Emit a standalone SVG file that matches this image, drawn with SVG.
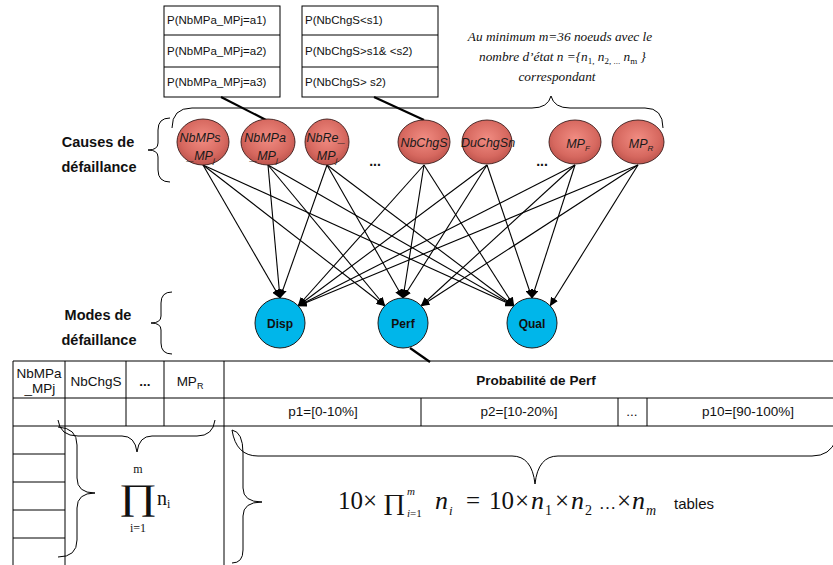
<svg xmlns="http://www.w3.org/2000/svg" width="833" height="565" viewBox="0 0 833 565">
<style>
.sans{font-family:"Liberation Sans",Arial,sans-serif;}
.lbl{font-family:"Liberation Sans",Arial,sans-serif;font-weight:bold;font-size:14.5px;fill:#111;text-anchor:middle;}
.cause{fill:url(#rg);stroke:#3a1a18;stroke-width:0.9;}
.ct{font-family:"Liberation Sans",Arial,sans-serif;font-style:italic;font-size:12.5px;fill:#1a1a1a;text-anchor:middle;}
.mode{fill:#00b6ea;stroke:#1a1a1a;stroke-width:1;}
.mt{font-family:"Liberation Sans",Arial,sans-serif;font-weight:bold;font-size:12px;fill:#111;text-anchor:middle;}
.cell{fill:none;stroke:#000;stroke-width:1;}
.tt{font-family:"Liberation Sans",Arial,sans-serif;font-size:11.5px;fill:#111;}
.th{font-family:"Liberation Sans",Arial,sans-serif;font-size:13.5px;fill:#111;text-anchor:middle;}
.brace{fill:none;stroke:#000;stroke-width:1;}
.arr{stroke:#000;stroke-width:1.1;fill:none;marker-end:url(#ah);}
.thick{stroke:#000;stroke-width:2.2;}
.ser{font-family:"Liberation Serif","Times New Roman",serif;fill:#111;}
.dots{font-family:"Liberation Sans",Arial,sans-serif;font-weight:bold;font-size:14px;fill:#111;text-anchor:middle;}
</style>
<defs>
<radialGradient id="rg" cx="50%" cy="42%" r="60%">
<stop offset="0" stop-color="#f18c82"/>
<stop offset="0.7" stop-color="#d6685f"/>
<stop offset="1" stop-color="#bb524b"/>
</radialGradient>
<marker id="ah" markerWidth="9" markerHeight="8" refX="8.5" refY="4" orient="auto" markerUnits="userSpaceOnUse">
<path d="M0,0 L9,4 L0,8 z" fill="#000"/>
</marker>
</defs>
<rect width="833" height="565" fill="#fff"/>

<!-- top probability tables -->
<g id="table-nbmpa">
<rect class="cell" x="164" y="6" width="116" height="91"/>
<line class="cell" x1="164" y1="35" x2="280" y2="35"/>
<line class="cell" x1="164" y1="67" x2="280" y2="67"/>
<text class="tt" x="167" y="24">P(NbMPa_MPj=a1)</text>
<text class="tt" x="167" y="55">P(NbMPa_MPj=a2)</text>
<text class="tt" x="167" y="86">P(NbMPa_MPj=a3)</text>
</g>
<g id="table-nbchgs">
<rect class="cell" x="302" y="6" width="136" height="91"/>
<line class="cell" x1="302" y1="35" x2="438" y2="35"/>
<line class="cell" x1="302" y1="67" x2="438" y2="67"/>
<text class="tt" x="305" y="24">P(NbChgS&lt;s1)</text>
<text class="tt" x="305" y="55">P(NbChgS&gt;s1&amp; &lt;s2)</text>
<text class="tt" x="305" y="86">P(NbChgS&gt; s2)</text>
</g>

<!-- annotation -->
<g id="note">
<text class="ser" font-style="italic" font-size="13.3" text-anchor="middle" x="560" y="41">Au minimum m=36 noeuds avec le</text>
<text class="ser" font-style="italic" font-size="13.3" x="479" y="61">nombre d’état n ={n<tspan font-size="9" font-style="normal" dy="3">1,</tspan><tspan dy="-3"> n</tspan><tspan font-size="9" font-style="normal" dy="3">2, ...</tspan><tspan dy="-3"> n</tspan><tspan font-size="9" font-style="normal" dy="3">m</tspan><tspan dy="-3"> }</tspan></text>
<text class="ser" font-style="italic" font-size="13.3" text-anchor="middle" x="557" y="81">correspondant</text>
</g>

<!-- side labels -->
<g id="label-causes">
<text class="lbl" x="98" y="147">Causes de</text>
<text class="lbl" x="99" y="172">défaillance</text>
<path class="brace" d="M170,118 Q158,118 158,130 L158,143 Q158,150 148,150 Q158,150 158,157 L158,170 Q158,182 170,182"/>
</g>
<g id="label-modes">
<text class="lbl" x="98" y="320">Modes de</text>
<text class="lbl" x="99" y="345">défaillance</text>
<path class="brace" d="M172,292 Q161,292 161,303 L161,316 Q161,323 151,323 Q161,323 161,330 L161,343 Q161,354 172,354"/>
</g>

<!-- big top brace -->
<path class="brace" d="M172,128 Q172,108 192,108 L532,108 Q548,108 551,96 Q554,108 570,108 L645,108 Q663,108 663,128"/>

<!-- connectors -->
<g id="connectors">
<line class="thick" x1="221" y1="97" x2="268" y2="121"/>
<line class="thick" x1="374" y1="97" x2="424" y2="120"/>
<line class="thick" x1="410" y1="348" x2="430" y2="362"/>
<line class="arr" x1="203" y1="165" x2="280" y2="298"/>
<line class="arr" x1="268" y1="165" x2="280" y2="298"/>
<line class="arr" x1="327" y1="165" x2="280" y2="298"/>
<line class="arr" x1="424" y1="165" x2="298" y2="306"/>
<line class="arr" x1="487" y1="165" x2="298" y2="306"/>
<line class="arr" x1="575" y1="165" x2="298" y2="306"/>
<line class="arr" x1="638" y1="165" x2="298" y2="306"/>
<line class="arr" x1="203" y1="165" x2="385" y2="306"/>
<line class="arr" x1="268" y1="165" x2="385" y2="306"/>
<line class="arr" x1="327" y1="165" x2="403" y2="298"/>
<line class="arr" x1="424" y1="165" x2="403" y2="298"/>
<line class="arr" x1="487" y1="165" x2="403" y2="298"/>
<line class="arr" x1="575" y1="165" x2="421" y2="306"/>
<line class="arr" x1="638" y1="165" x2="421" y2="306"/>
<line class="arr" x1="203" y1="165" x2="514" y2="306"/>
<line class="arr" x1="268" y1="165" x2="514" y2="306"/>
<line class="arr" x1="327" y1="165" x2="514" y2="306"/>
<line class="arr" x1="424" y1="165" x2="514" y2="306"/>
<line class="arr" x1="487" y1="165" x2="532" y2="298"/>
<line class="arr" x1="575" y1="165" x2="532" y2="298"/>
<line class="arr" x1="638" y1="165" x2="550" y2="306"/>
</g>

<!-- cause nodes -->
<g id="node-nbmps">
<ellipse class="cause" cx="203" cy="142" rx="26" ry="23"/>
<text class="ct" x="200" y="142">NbMPs</text>
<text class="ct" x="201" y="160">_MP<tspan font-size="8" dy="3">j</tspan></text>
</g>
<g id="node-nbmpa">
<ellipse class="cause" cx="268" cy="142" rx="27" ry="23"/>
<text class="ct" x="265" y="142">NbMPa</text>
<text class="ct" x="264" y="160">_MP<tspan font-size="8" dy="3">j</tspan></text>
</g>
<g id="node-nbre">
<ellipse class="cause" cx="327" cy="142" rx="22" ry="23"/>
<text class="ct" x="326" y="142">NbRe_</text>
<text class="ct" x="327" y="160">MP<tspan font-size="8" dy="3">j</tspan></text>
</g>
<text class="dots" x="375" y="166">...</text>
<g id="node-nbchgs">
<ellipse class="cause" cx="424" cy="142" rx="26" ry="22"/>
<text class="ct" x="424" y="147">NbChgS</text>
</g>
<g id="node-duchgsn">
<ellipse class="cause" cx="487" cy="142" rx="25" ry="22"/>
<text class="ct" x="488" y="147">DuChgSn</text>
</g>
<text class="dots" x="542" y="166">...</text>
<g id="node-mpf">
<ellipse class="cause" cx="575" cy="142" rx="26" ry="22"/>
<text class="ct" x="578" y="148">MP<tspan font-size="8" dy="3">F</tspan></text>
</g>
<g id="node-mpr">
<ellipse class="cause" cx="638" cy="142" rx="26" ry="22"/>
<text class="ct" x="641" y="148">MP<tspan font-size="8" dy="3">R</tspan></text>
</g>

<!-- mode nodes -->
<g id="node-disp">
<circle class="mode" cx="280" cy="323" r="25"/>
<text class="mt" x="280" y="328">Disp</text>
</g>
<g id="node-perf">
<circle class="mode" cx="403" cy="323" r="25"/>
<text class="mt" x="403" y="328">Perf</text>
</g>
<g id="node-qual">
<circle class="mode" cx="532" cy="323" r="25"/>
<text class="mt" x="532" y="328">Qual</text>
</g>

<!-- bottom table -->
<g id="table-perf">
<line class="cell" x1="13" y1="361" x2="833" y2="361"/>
<line class="cell" x1="13" y1="398" x2="833" y2="398"/>
<line class="cell" x1="13" y1="426" x2="833" y2="426"/>
<line class="cell" x1="13" y1="361" x2="13" y2="565"/>
<line class="cell" x1="65" y1="361" x2="65" y2="565"/>
<line class="cell" x1="126" y1="361" x2="126" y2="426"/>
<line class="cell" x1="164" y1="361" x2="164" y2="426"/>
<line class="cell" x1="224" y1="361" x2="224" y2="565"/>
<line class="cell" x1="421" y1="398" x2="421" y2="426"/>
<line class="cell" x1="618" y1="398" x2="618" y2="426"/>
<line class="cell" x1="647" y1="398" x2="647" y2="426"/>
<line class="cell" x1="13" y1="454" x2="65" y2="454"/>
<line class="cell" x1="13" y1="482" x2="65" y2="482"/>
<line class="cell" x1="13" y1="510" x2="65" y2="510"/>
<line class="cell" x1="13" y1="538" x2="65" y2="538"/>
<text class="th" font-size="13" x="39" y="378">NbMPa</text>
<text class="th" font-size="13" x="40" y="393">_MPj</text>
<text class="th" font-size="13" x="96" y="386">NbChgS</text>
<text class="th" font-weight="bold" x="145" y="386">...</text>
<text class="th" font-size="14" x="190" y="386">MP<tspan font-size="9" dy="3">R</tspan></text>
<text class="th" font-weight="bold" x="536" y="385">Probabilité de Perf</text>
<text class="th" x="323" y="416">p1=[0-10%]</text>
<text class="th" x="519" y="416">p2=[10-20%]</text>
<text class="th" x="632" y="416">...</text>
<text class="th" x="748" y="416">p10=[90-100%]</text>
</g>

<!-- bottom braces -->
<path class="brace" d="M58,420 Q60,436 78,436 L122,436 Q135,436 137,452 Q139,436 152,436 L197,436 Q213,436 215,420"/>
<path class="brace" d="M58,427 Q77,428 77,445 L77,478 Q77,493 95,493 Q77,493 77,508 L77,540 Q77,557 58,557"/>
<path class="brace" d="M232,430 Q243,432 243,453 L243,488 Q243,502 262,502 Q243,502 243,516 L243,550 Q243,563 232,563"/>
<path class="brace" d="M232,430 Q236,456 258,456 L512,456 Q532,456 535,484 Q538,456 558,456 L812,456 Q830,456 836,440"/>

<!-- product formula -->
<g id="product">
<text class="ser" font-size="12" text-anchor="middle" x="138" y="473">m</text>
<text class="ser" font-size="36" text-anchor="middle" transform="translate(138,509) scale(1.3,1)" x="0" y="0">∏</text>
<text class="ser" font-size="12" text-anchor="middle" x="138" y="532">i=1</text>
<text class="ser" font-size="20" x="157" y="505">n<tspan font-size="12" dy="3">i</tspan></text>
</g>

<g id="formula">
<text class="ser" font-size="25" x="338" y="509">10×</text>
<text class="ser" font-size="23" transform="translate(383,510) scale(1.2,1)" x="0" y="0">∏</text>
<text class="ser" font-size="11" font-style="italic" x="407" y="495">m</text>
<text class="ser" font-size="11" x="407" y="517"><tspan font-style="italic">i</tspan>=1</text>
<text class="ser" font-size="26" font-style="italic" x="435" y="509">n</text>
<text class="ser" font-size="13" font-style="italic" x="449" y="515">i</text>
<text class="ser" font-size="25" x="466" y="509">=</text>
<text class="ser" font-size="25" x="489" y="509">10</text>
<text class="ser" font-size="25" x="515" y="509">×</text>
<text class="ser" font-size="26" font-style="italic" x="531" y="509">n</text>
<text class="ser" font-size="14" x="545" y="515">1</text>
<text class="ser" font-size="25" x="555" y="509">×</text>
<text class="ser" font-size="26" font-style="italic" x="571" y="509">n</text>
<text class="ser" font-size="14" x="585" y="515">2</text>
<text class="ser" font-size="17" x="599" y="509">…</text>
<text class="ser" font-size="25" x="617" y="509">×</text>
<text class="ser" font-size="26" font-style="italic" x="632" y="509">n</text>
<text class="ser" font-size="14" font-style="italic" x="646" y="515">m</text>
<text class="sans" font-size="15" fill="#111" x="674" y="509">tables</text>
</g>
</svg>
